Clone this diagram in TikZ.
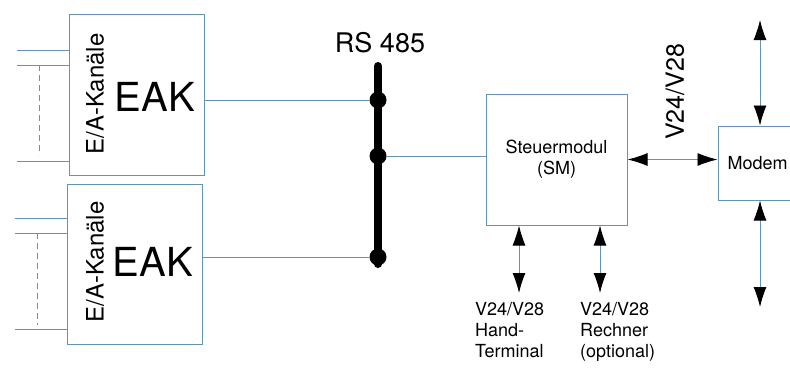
\documentclass[tikz,border=0pt]{standalone}
\usepackage{fontspec}
\setmainfont{TeX Gyre Heros}
\usetikzlibrary{arrows.meta,positioning}
\definecolor{wire}{RGB}{100,148,176}

\begin{document}
\begin{tikzpicture}[x=1pt,y=-1pt,
  box/.style={draw=wire,line width=1pt,inner sep=0pt},
  wireline/.style={draw=wire,line width=0.9pt},
  link/.style={wireline,{Latex[length=20pt,width=13pt,black]}-{Latex[length=20pt,width=13pt,black]}},
  tap/.style={circle,fill=black,inner sep=0pt,minimum size=17pt},
  big/.style={font=\fontsize{40}{40}\selectfont},
  side/.style={font=\fontsize{24}{24}\selectfont,rotate=90},
  small/.style={font=\fontsize{18}{21}\selectfont,align=left,anchor=north west,inner sep=0pt}]
\useasboundingbox (0,0) rectangle (790,370);
\clip (0,0) rectangle (790,370);
%EAK boxes
\node[box,minimum width=135pt,minimum height=161pt] (eak1) at (136.5,94.5) {};
\node[box,minimum width=135pt,minimum height=160pt] (eak2) at (134.5,264) {};
\node[side] (chan1) at (95,94) {E/A-Kanäle};
\node[side] (chan2) at (95,262) {E/A-Kanäle};
\node[big] (name1) at (155,97) {EAK};
\node[big] (name2) at (153,262) {EAK};
%channel inputs
\coordinate (in1a) at (17,50);
\coordinate (in1b) at (17,65);
\coordinate (in1c) at (17,161);
\coordinate (in2a) at (15,218);
\coordinate (in2b) at (15,233);
\coordinate (in2c) at (15,329);
\foreach \c in {in1a,in1b,in1c}
  \draw[wireline] (\c) -- (\c -| eak1.west);
\foreach \c in {in2a,in2b,in2c}
  \draw[wireline] (\c) -- (\c -| eak2.west);
\coordinate (gap1a) at (39,65);
\coordinate (gap1b) at (39,155);
\coordinate (gap2a) at (37,233);
\coordinate (gap2b) at (37,325);
\draw[wireline,dash pattern=on 6pt off 4pt] (gap1a) -- (gap1b);
\draw[wireline,dash pattern=on 6pt off 4pt] (gap2a) -- (gap2b);
%bus
\coordinate (bustop) at (378,66);
\coordinate (busbot) at (378,264);
\draw[line width=8pt,line cap=round] (bustop) -- (busbot);
\node[tap] (tap1) at (378,100) {};
\node[tap] (tap2) at (378,156) {};
\node[tap] (tap3) at (378,257) {};
\node[font=\fontsize{27}{27}\selectfont] (rs) at (380,43) {RS 485};
%control module and modem
\node[box,minimum width=141pt,minimum height=131pt,align=center,
  font=\fontsize{18}{21}\selectfont] (sm) at (556.5,159.5) {Steuermodul\\(SM)};
\node[box,minimum width=90pt,minimum height=74pt] (modem) at (763,163) {};
\node[right=10pt of modem.west,inner sep=0pt,font=\fontsize{18}{21}\selectfont] (modemtxt) {Modem};
\node[font=\fontsize{25}{25}\selectfont,rotate=90] (v24) at (675,92) {V24/V28};
%connections
\draw[wireline] (tap1 -| eak1.east) -- (tap1);
\draw[wireline] (tap3 -| eak2.east) -- (tap3);
\draw[wireline] (tap2) -- (tap2 -| sm.west);
\draw[link] (sm.east) -- (sm.east -| modem.west);
\coordinate (mtop) at (760,20);
\coordinate (mbot) at (760,307);
\draw[link] (mtop) -- (mtop |- modem.north);
\draw[link] (mbot |- modem.south) -- (mbot);
\coordinate (hand) at (519,293);
\coordinate (pc) at (600,293);
\draw[link] (hand |- sm.south) -- (hand);
\draw[link] (pc |- sm.south) -- (pc);
\node[small] (handlbl) at (475,302) {V24/V28\\Hand-\\Terminal};
\node[small] (pclbl) at (580,302) {V24/V28\\Rechner\\(optional)};
\end{tikzpicture}
\end{document}
